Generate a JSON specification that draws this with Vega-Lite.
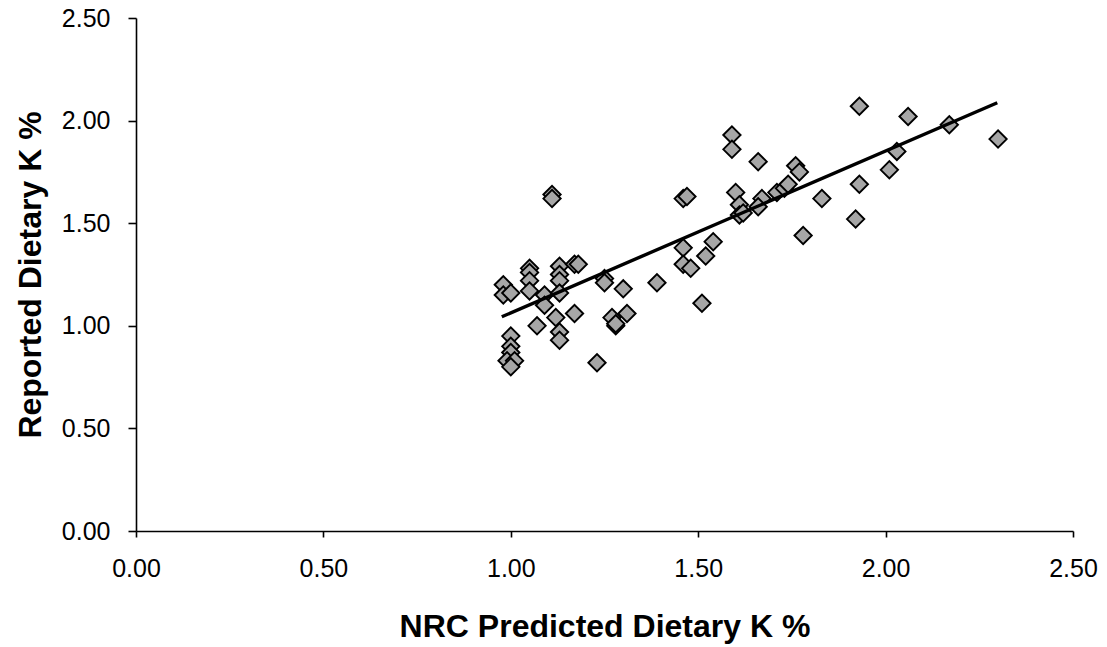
{
  "$schema": "https://vega.github.io/schema/vega-lite/v6.json",
  "width": 937,
  "height": 513,
  "autosize": {"type": "none"},
  "padding": {"left": 136, "top": 18, "right": 34, "bottom": 116},
  "background": "white",
  "config": {
    "view": {"stroke": null},
    "font": "Liberation Sans",
    "axis": {
      "grid": false,
      "domainColor": "black",
      "domainWidth": 1.6,
      "tickColor": "black",
      "tickWidth": 1.6,
      "labelFlush": false,
      "labelOverlap": false,
      "labelFont": "Liberation Sans",
      "labelFontSize": 25,
      "labelColor": "black",
      "titleFont": "Liberation Sans",
      "titleFontSize": 32,
      "titleFontWeight": "bold",
      "titleColor": "black"
    }
  },
  "datasets": {
    "diets": [
      {"nrc": 0.98, "reported": 1.20}, {"nrc": 0.98, "reported": 1.15}, {"nrc": 1.00, "reported": 1.16},
      {"nrc": 1.05, "reported": 1.28}, {"nrc": 1.05, "reported": 1.26}, {"nrc": 1.05, "reported": 1.22}, {"nrc": 1.05, "reported": 1.17},
      {"nrc": 1.09, "reported": 1.15}, {"nrc": 1.09, "reported": 1.10},
      {"nrc": 1.13, "reported": 1.29}, {"nrc": 1.13, "reported": 1.25}, {"nrc": 1.13, "reported": 1.22}, {"nrc": 1.13, "reported": 1.16},
      {"nrc": 1.17, "reported": 1.30}, {"nrc": 1.18, "reported": 1.30},
      {"nrc": 1.12, "reported": 1.04}, {"nrc": 1.17, "reported": 1.06}, {"nrc": 1.07, "reported": 1.00},
      {"nrc": 1.13, "reported": 0.97}, {"nrc": 1.13, "reported": 0.93},
      {"nrc": 1.00, "reported": 0.95}, {"nrc": 1.00, "reported": 0.90}, {"nrc": 1.00, "reported": 0.87},
      {"nrc": 0.99, "reported": 0.83}, {"nrc": 1.01, "reported": 0.83}, {"nrc": 1.00, "reported": 0.80},
      {"nrc": 1.11, "reported": 1.64}, {"nrc": 1.11, "reported": 1.62},
      {"nrc": 1.23, "reported": 0.82},
      {"nrc": 1.25, "reported": 1.23}, {"nrc": 1.25, "reported": 1.21}, {"nrc": 1.30, "reported": 1.18}, {"nrc": 1.39, "reported": 1.21},
      {"nrc": 1.27, "reported": 1.04}, {"nrc": 1.28, "reported": 1.00}, {"nrc": 1.28, "reported": 1.01}, {"nrc": 1.31, "reported": 1.06},
      {"nrc": 1.46, "reported": 1.38}, {"nrc": 1.46, "reported": 1.30}, {"nrc": 1.48, "reported": 1.28},
      {"nrc": 1.52, "reported": 1.34}, {"nrc": 1.54, "reported": 1.41}, {"nrc": 1.51, "reported": 1.11},
      {"nrc": 1.46, "reported": 1.62}, {"nrc": 1.47, "reported": 1.63},
      {"nrc": 1.59, "reported": 1.93}, {"nrc": 1.59, "reported": 1.86}, {"nrc": 1.66, "reported": 1.80},
      {"nrc": 1.60, "reported": 1.65}, {"nrc": 1.61, "reported": 1.59}, {"nrc": 1.61, "reported": 1.54}, {"nrc": 1.62, "reported": 1.55},
      {"nrc": 1.67, "reported": 1.62}, {"nrc": 1.66, "reported": 1.58}, {"nrc": 1.71, "reported": 1.65},
      {"nrc": 1.73, "reported": 1.67}, {"nrc": 1.74, "reported": 1.69},
      {"nrc": 1.76, "reported": 1.78}, {"nrc": 1.77, "reported": 1.75},
      {"nrc": 1.78, "reported": 1.44}, {"nrc": 1.83, "reported": 1.62}, {"nrc": 1.92, "reported": 1.52}, {"nrc": 1.93, "reported": 1.69},
      {"nrc": 1.93, "reported": 2.07}, {"nrc": 2.06, "reported": 2.02}, {"nrc": 2.03, "reported": 1.85}, {"nrc": 2.01, "reported": 1.76},
      {"nrc": 2.17, "reported": 1.98}, {"nrc": 2.30, "reported": 1.91}
    ],
    "trend": [
      {"nrc": 0.976, "reported": 1.044},
      {"nrc": 2.298, "reported": 2.087}
    ]
  },
  "encoding": {
    "x": {
      "field": "nrc",
      "type": "quantitative",
      "scale": {"domain": [0, 2.5], "nice": false, "zero": false},
      "axis": {
        "title": "NRC Predicted Dietary K %",
        "values": [0, 0.5, 1, 1.5, 2, 2.5],
        "format": ".2f",
        "tickSize": 6,
        "labelPadding": 19,
        "titlePadding": 30
      }
    },
    "y": {
      "field": "reported",
      "type": "quantitative",
      "scale": {"domain": [0, 2.5], "nice": false, "zero": false},
      "axis": {
        "title": "Reported Dietary K %",
        "values": [0, 0.5, 1, 1.5, 2, 2.5],
        "format": ".2f",
        "tickSize": 8,
        "labelPadding": 18,
        "titlePadding": 14
      }
    }
  },
  "layer": [
    {
      "data": {"name": "diets"},
      "mark": {
        "type": "point",
        "shape": "diamond",
        "filled": true,
        "fill": "#a6a6a6",
        "stroke": "black",
        "strokeWidth": 1.9,
        "opacity": 1,
        "size": 300
      }
    },
    {
      "data": {"name": "trend"},
      "mark": {"type": "line", "color": "black", "strokeWidth": 3.4},
      "encoding": {}
    }
  ]
}
